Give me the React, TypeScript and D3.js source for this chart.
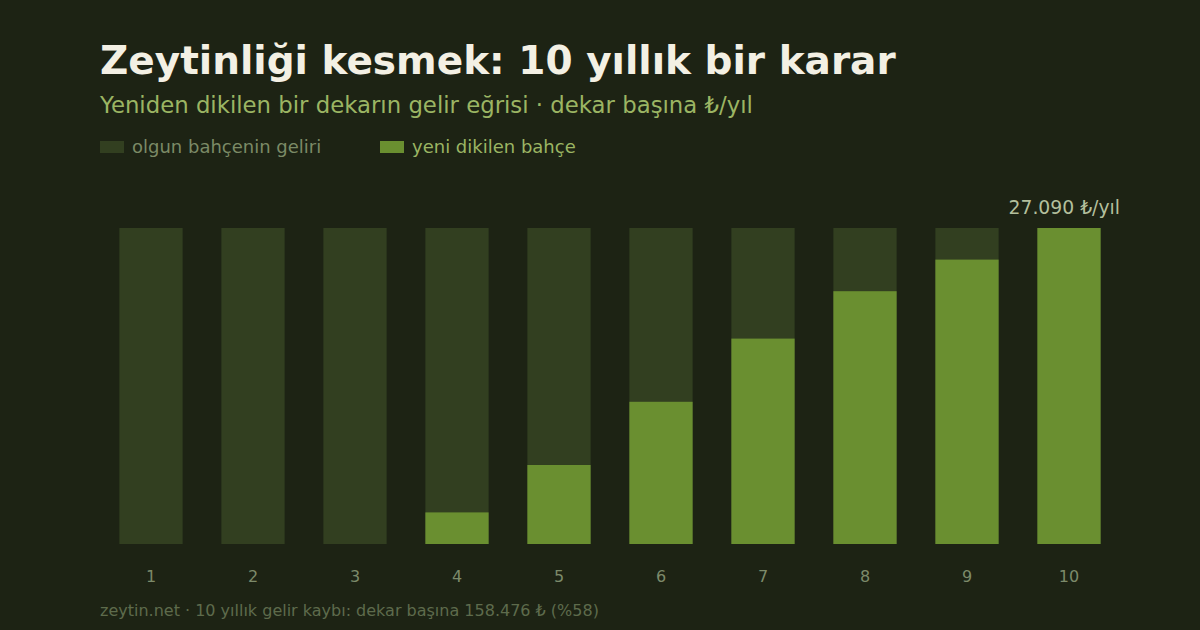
import React, { useEffect, useRef } from 'react';
import * as d3 from 'd3';

// years after replanting
const years = [1, 2, 3, 4, 5, 6, 7, 8, 9, 10];
// mature grove income per decare, ₺/yıl (flat)
const matureIncome = [27090, 27090, 27090, 27090, 27090, 27090, 27090, 27090, 27090, 27090];
// newly planted grove income per decare, ₺/yıl
const newIncome = [0, 0, 0, 2709, 6773, 12191, 17609, 21672, 24381, 27090];
const legendLabels = ['olgun bahçenin geliri', 'yeni dikilen bahçe'];

const W = 1200;
const H = 630;
const FONT = '"DejaVu Sans", Verdana, sans-serif';
const BG = '#1d2314';
const MATURE = '#323f20';
const NEW = '#6a8f30';

const App: React.FC = () => {
  const svgRef = useRef<SVGSVGElement>(null);

  useEffect(() => {
    if (!svgRef.current) return;
    const svg = d3.select(svgRef.current);
    svg.selectAll('*').remove();

    svg.append('rect').attr('width', W).attr('height', H).attr('fill', BG);

    // Title + subtitle
    svg.append('text')
      .attr('x', 100).attr('y', 74)
      .attr('font-family', FONT).attr('font-weight', 'bold').attr('font-size', 39)
      .attr('fill', '#f3f0e4')
      .text('Zeytinliği kesmek: 10 yıllık bir karar');
    svg.append('text')
      .attr('x', 100).attr('y', 113)
      .attr('font-family', FONT).attr('font-size', 22.8)
      .attr('fill', '#9bb563')
      .text('Yeniden dikilen bir dekarın gelir eğrisi · dekar başına ₺/yıl');

    // Legend
    const legendX = [100, 380];
    const legendColors = [MATURE, NEW];
    const legendText = ['#7b8a66', '#9bb563'];
    legendLabels.forEach((lab, i) => {
      svg.append('rect')
        .attr('x', legendX[i]).attr('y', 141).attr('width', 24).attr('height', 12)
        .attr('fill', legendColors[i]);
      svg.append('text')
        .attr('x', legendX[i] + 32).attr('y', 153)
        .attr('font-family', FONT).attr('font-size', 18)
        .attr('fill', legendText[i])
        .text(lab);
    });

    // Scales
    const x = d3.scaleBand<number>()
      .domain(years)
      .range([100, 1120])
      .paddingInner(0.38)
      .paddingOuter(0.19);
    const y = d3.scaleLinear()
      .domain([0, d3.max(matureIncome) as number])
      .range([544, 228]);

    // Mature bars (background)
    svg.append('g').selectAll('rect')
      .data(years)
      .join('rect')
      .attr('x', d => x(d) as number)
      .attr('width', x.bandwidth())
      .attr('y', (_, i) => y(matureIncome[i]))
      .attr('height', (_, i) => y(0) - y(matureIncome[i]))
      .attr('fill', MATURE);

    // New grove bars
    svg.append('g').selectAll('rect')
      .data(years)
      .join('rect')
      .attr('x', d => x(d) as number)
      .attr('width', x.bandwidth())
      .attr('y', (_, i) => y(newIncome[i]))
      .attr('height', (_, i) => y(0) - y(newIncome[i]))
      .attr('fill', NEW);

    // Year labels
    svg.append('g').selectAll('text')
      .data(years)
      .join('text')
      .attr('x', d => (x(d) as number) + x.bandwidth() / 2)
      .attr('y', 582)
      .attr('text-anchor', 'middle')
      .attr('font-family', FONT).attr('font-size', 16)
      .attr('fill', '#7c8a6a')
      .text(d => d);

    // Final value label
    const last = newIncome[newIncome.length - 1];
    svg.append('text')
      .attr('x', 1120).attr('y', y(last) - 14)
      .attr('text-anchor', 'end')
      .attr('font-family', FONT).attr('font-size', 18.8)
      .attr('fill', '#b3bf9c')
      .text(`${d3.format(',')(last).replace(/,/g, '.')} ₺/yıl`);

    // Footer
    svg.append('text')
      .attr('x', 100).attr('y', 616)
      .attr('font-family', FONT).attr('font-size', 16)
      .attr('fill', '#5e6b4c')
      .text('zeytin.net · 10 yıllık gelir kaybı: dekar başına 158.476 ₺ (%58)');
  }, []);

  return (
    <svg
      ref={svgRef}
      width={W}
      height={H}
      style={{ display: 'block', position: 'absolute', left: 0, top: 0 }}
    />
  );
};

export default App;
